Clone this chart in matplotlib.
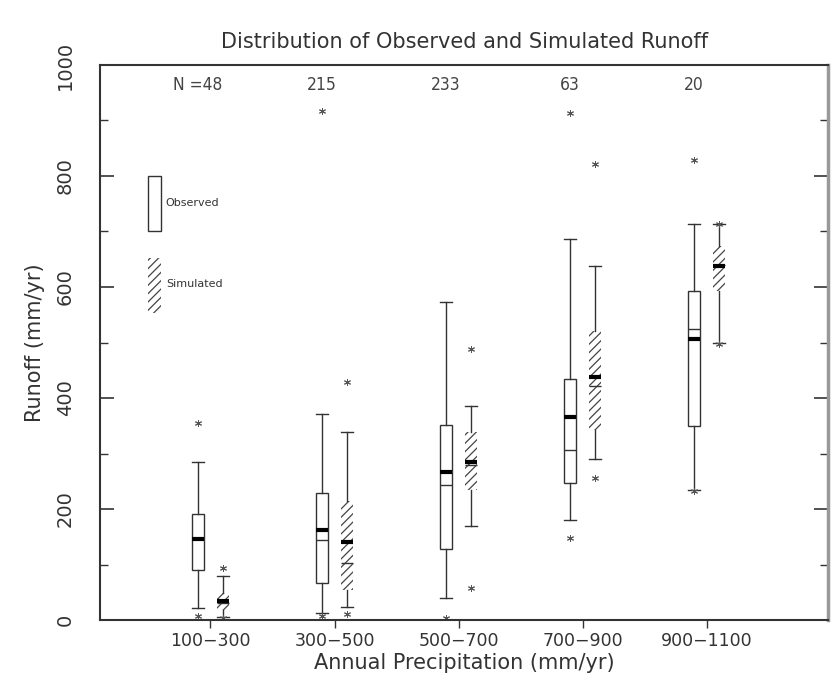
"""
Box plots of observed and simulated runoff grouped by annual precipitation.
Saves out.png
"""

import matplotlib
matplotlib.use("Agg")
import matplotlib.pyplot as plt
from matplotlib.patches import Rectangle
from matplotlib.ticker import MultipleLocator

# precipitation classes and sample counts
categories = ["100\u2212300", "300\u2212500", "500\u2212700", "700\u2212900", "900\u22121100"]
n_labels = ["N =48", "215", "233", "63", "20"]

# observed runoff summary (mm/yr)
obs_lo = [21, 13, 39, 181, 235]
obs_q1 = [90, 66, 128, 246, 350]
obs_med = [146, 144, 243, 306, 524]
obs_mean = [146, 163, 267, 366, 506]
obs_q3 = [191, 229, 351, 435, 593]
obs_hi = [285, 371, 573, 686, 714]
obs_out = [[355, 7], [917, 7], [3], [914, 147], [829, 233]]

# simulated runoff summary (mm/yr)
sim_lo = [6, 24, 169, 290, 499]
sim_q1 = [18, 54, 235, 342, 592]
sim_med = [30, 103, 280, 422, 640]
sim_mean = [35, 141, 285, 438, 637]
sim_q3 = [49, 215, 338, 520, 674]
sim_hi = [80, 339, 386, 638, 714]
sim_out = [[93, 3], [428, 11], [488, 58], [822, 255], [714, 497]]


def make_stats(lo, q1, med, mean, q3, hi, out):
    stats = []
    for i in range(len(lo)):
        stats.append(dict(whislo=lo[i], q1=q1[i], med=med[i], mean=mean[i],
                          q3=q3[i], whishi=hi[i], fliers=out[i]))
    return stats


LINE = "#333333"
plt.rcParams["font.family"] = "DejaVu Sans"
plt.rcParams["hatch.linewidth"] = 0.9

fig = plt.figure(figsize=(8.34, 6.83), dpi=100)
ax = fig.add_axes([0.12, 1 - 620 / 683, 0.993 - 0.12, (620 - 65) / 683])

x = list(range(1, len(categories) + 1))
flier = dict(marker=(6, 2, 0), markersize=5, markeredgewidth=0.7,
             markeredgecolor="#555555", linestyle="none")
common = dict(widths=0.1, capwidths=0.1, showmeans=True, meanline=True,
              flierprops=flier,
              whiskerprops=dict(color=LINE, linewidth=1.0),
              capprops=dict(color=LINE, linewidth=1.0),
              medianprops=dict(color=LINE, linewidth=1.0),
              meanprops=dict(color="black", linestyle="-", linewidth=3.0),
              patch_artist=True, manage_ticks=False)

ax.bxp(make_stats(obs_lo, obs_q1, obs_med, obs_mean, obs_q3, obs_hi, obs_out),
       positions=[p - 0.1 for p in x],
       boxprops=dict(facecolor="white", edgecolor=LINE, linewidth=1.0),
       **common)

ax.bxp(make_stats(sim_lo, sim_q1, sim_med, sim_mean, sim_q3, sim_hi, sim_out),
       positions=[p + 0.1 for p in x],
       boxprops=dict(facecolor="white", edgecolor="#444444", linewidth=0,
                     hatch="////"),
       **common)

# sample counts above each class
for xi, lab in zip(x, n_labels):
    ax.text(xi - 0.1, 964, lab, ha="center", va="center", fontsize=12.5,
            color="#444444", fontstretch="condensed")

# legend drawn inside the plot
ax.add_patch(Rectangle((0.50, 700), 0.1, 100, facecolor="white",
                       edgecolor=LINE, linewidth=1.0))
ax.text(0.64, 752, "Observed", fontsize=8, va="center", color="#333333")
ax.add_patch(Rectangle((0.50, 553), 0.1, 100, facecolor="white",
                       edgecolor="#444444", linewidth=0, hatch="////"))
ax.text(0.64, 605, "Simulated", fontsize=8, va="center", color="#333333")

ax.set_xlim(0.11, 5.98)
ax.set_ylim(0, 1000)
ax.set_xticks(x)
ax.set_xticklabels(categories, fontsize=12.5, color="#333333")
ax.yaxis.set_major_locator(MultipleLocator(200))
ax.yaxis.set_minor_locator(MultipleLocator(100))
ax.tick_params(axis="x", direction="out", length=6, width=1, color=LINE,
               pad=3, top=False)
ax.tick_params(axis="y", which="major", direction="in", length=10, width=1.2,
               color=LINE, right=True, pad=18, labelsize=14, labelcolor="#333333")
ax.tick_params(axis="y", which="minor", direction="in", length=6, width=1.0,
               color=LINE, right=True)
for lab in ax.get_yticklabels():
    lab.set_rotation(90)
    lab.set_verticalalignment("center")
ax.get_yticklabels()[-1].set_verticalalignment("bottom")

for side in ["left", "top", "bottom"]:
    ax.spines[side].set_color(LINE)
    ax.spines[side].set_linewidth(1.5)
ax.spines["right"].set_color("#999999")
ax.spines["right"].set_linewidth(2.5)

ax.set_ylabel("Runoff (mm/yr)", fontsize=15, color="#333333", labelpad=8)
ax.set_xlabel("Annual Precipitation (mm/yr)", fontsize=15, color="#333333",
              labelpad=2)
ax.set_title("Distribution of Observed and Simulated Runoff", fontsize=15,
             color="#333333", pad=12)

fig.savefig("out.png", dpi=100)
plt.close(fig)
